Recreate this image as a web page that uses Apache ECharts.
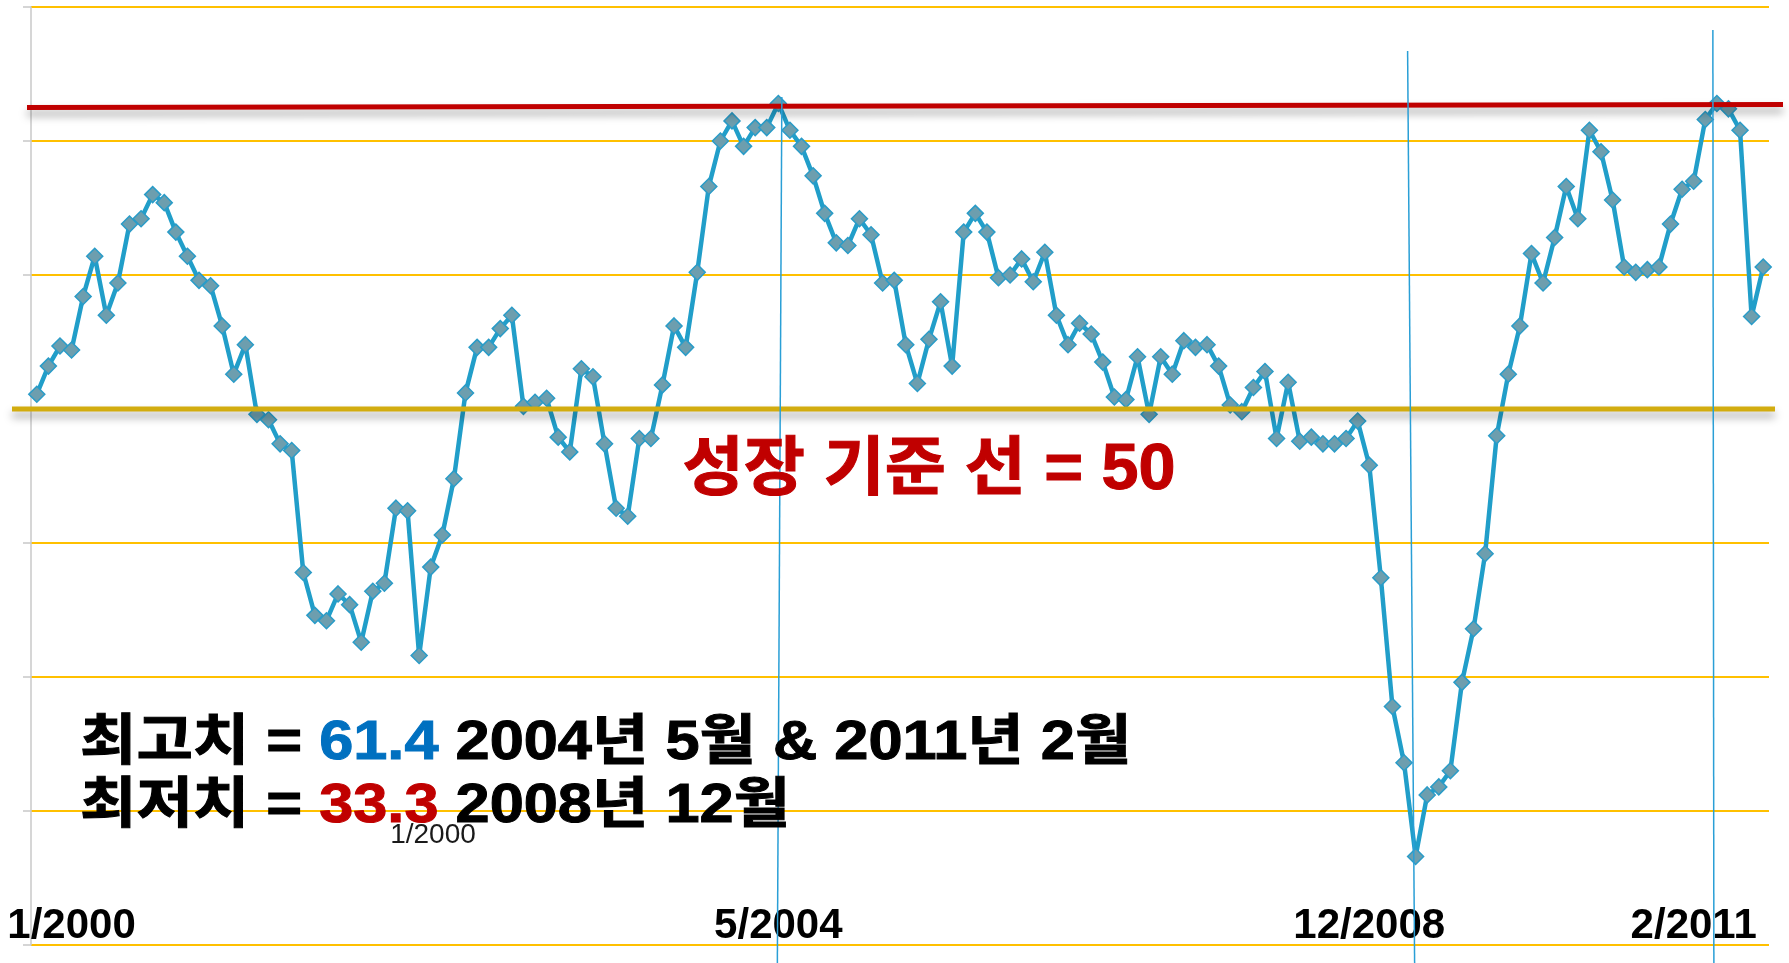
<!DOCTYPE html>
<html>
<head>
<meta charset="utf-8">
<script src="https://cdn.jsdelivr.net/npm/echarts@6/dist/echarts.min.js"></script>
<style>
  html, body { margin: 0; padding: 0; background: #fff; }
  #chart { width: 1789px; height: 963px; }
</style>
</head>
<body>
<div id="chart"></div>
<script>
// monthly index values (150 points)
const values = [
  50.55, 51.6, 52.35, 52.2, 54.2, 55.7, 53.5, 54.7, 56.9, 57.1,
  58.0, 57.7, 56.6, 55.7, 54.8, 54.6, 53.1, 51.3, 52.4, 49.8,
  49.6, 48.7, 48.45, 43.9, 42.3, 42.1, 43.1, 42.7, 41.3, 43.2,
  43.5, 46.3, 46.2, 40.8, 44.1, 45.3, 47.4, 50.6, 52.3, 52.3,
  53.0, 53.5, 50.1, 50.25, 50.4, 48.95, 48.4, 51.5, 51.2, 48.7,
  46.3, 46.0, 48.9, 48.9, 50.9, 53.1, 52.3, 55.1, 58.3, 60.0,
  60.75, 59.8, 60.5, 60.5, 61.4, 60.4, 59.8, 58.7, 57.3, 56.2,
  56.1, 57.1, 56.5, 54.7, 54.8, 52.4, 50.95, 52.6, 54.0, 51.6,
  56.6, 57.3, 56.6, 54.9, 55.0, 55.6, 54.75, 55.85, 53.5, 52.4,
  53.2, 52.8, 51.75, 50.45, 50.35, 51.95, 49.8, 51.95, 51.3, 52.55,
  52.3, 52.4, 51.6, 50.15, 49.9, 50.8, 51.4, 48.9, 51.0, 48.8,
  48.95, 48.7, 48.7, 48.9, 49.55, 47.9, 43.7, 38.9, 36.8, 33.3,
  35.6, 35.9, 36.5, 39.8, 41.8, 44.6, 49.0, 51.3, 53.1, 55.8,
  54.7, 56.4, 58.3, 57.1, 60.4, 59.6, 57.8, 55.3, 55.1, 55.2,
  55.3, 56.9, 58.2, 58.5, 60.8, 61.4, 61.2, 60.4, 53.45, 55.3
];
const categories = values.map((v, i) => String(i));

// x tick labels and the point each one sits over
const tickLabels = ['1/2000', '5/2004', '12/2008', '2/2011'];
const tickIndex = [3, 64, 115, 143];

const yMin = 30;
const yMax = 65;
const yStep = 5;
const baseline = 50;

const growthText = '성장 기준 선 = 50';
const highText = ['최고치 = ', '61.4', ' 2004년 5월 & 2011년 2월'];
const lowText = ['최저치 = ', '33.3', ' 2008년 12월'];
const strayLabel = '1/2000';

const FONT = '"Liberation Sans", Arial, "Noto Sans CJK KR", sans-serif';

const maxVal = Math.max(...values);
const minVal = Math.min(...values);
const peakIdx = values.map((v, i) => (v === maxVal ? i : -1)).filter(i => i >= 0);
const lowIdx = values.indexOf(minVal);

const chart = echarts.init(document.getElementById('chart'), null, { renderer: 'canvas' });

chart.setOption({
  animation: false,
  grid: { left: 31, right: 20, top: 7, bottom: 18 },
  xAxis: {
    type: 'category',
    data: categories,
    boundaryGap: true,
    axisLine: { show: false },
    axisTick: { show: false },
    splitLine: { show: false },
    axisLabel: {
      inside: true,
      interval: (i) => tickIndex.includes(i),
      formatter: (v) => {
        const k = tickIndex.indexOf(Number(v));
        return k >= 0 ? tickLabels[k] : '';
      },
      color: '#000',
      fontWeight: 'bold',
      fontSize: 42,
      fontFamily: FONT,
      lineHeight: 30,
      margin: 4
    }
  },
  yAxis: {
    type: 'value',
    min: yMin,
    max: yMax,
    interval: yStep,
    axisLine: { show: true, lineStyle: { color: '#c8c8c8', width: 1.5 } },
    axisTick: { show: true, length: 8, lineStyle: { color: '#c8c8c8', width: 1.5 } },
    axisLabel: { show: false },
    splitLine: { lineStyle: { color: '#ffc000', width: 1.8 } }
  },
  series: [
    {
      type: 'line',
      data: values,
      symbol: 'diamond',
      symbolSize: 16,
      showAllSymbol: true,
      lineStyle: { color: '#219ec9', width: 4.5 },
      itemStyle: { color: '#6d9eae', borderColor: '#2a9cc8', borderWidth: 1.5 },
      z: 3
    }
  ]
});

// annotation lines and texts, placed through the axes
const px = (i, v) => chart.convertToPixel({ gridIndex: 0 }, [i, v]);
const yBase = px(0, baseline)[1];
const yHigh = px(0, maxVal)[1];

const shadow = { shadowColor: 'rgba(0,0,0,0.35)', shadowBlur: 8, shadowOffsetY: 6 };
const vLine = (idx, dTop, dBottom, top) => {
  const x = px(idx, maxVal)[0];
  return {
    type: 'line',
    z: 30,
    shape: { x1: x + dTop, y1: top, x2: x + dBottom, y2: 963 },
    style: { stroke: '#2a9fd6', lineWidth: 1.5 }
  };
};

const richText = (parts, numColor) => ({
  text: '{a|' + parts[0] + '}{b|' + parts[1] + '}{a|' + parts[2] + '}',
  font: 'bold 55px ' + FONT, fill: '#000', align: 'left', verticalAlign: 'middle',
  rich: {
    a: { fill: '#000', stroke: '#000', lineWidth: 1, fontSize: 55, fontWeight: 'bold', fontFamily: FONT },
    b: { fill: numColor, stroke: numColor, lineWidth: 1, fontSize: 55, fontWeight: 'bold', fontFamily: FONT }
  }
});

chart.setOption({
  graphic: [
    {
      type: 'line', z: 20,
      shape: { x1: 12, y1: yBase, x2: 1775, y2: yBase },
      style: Object.assign({ stroke: '#d2ac0f', lineWidth: 5 }, shadow)
    },
    {
      type: 'line', z: 20,
      shape: { x1: 27, y1: yHigh + 4, x2: 1783, y2: yHigh + 1 },
      style: Object.assign({ stroke: '#c00000', lineWidth: 5 }, shadow)
    },
    vLine(peakIdx[0], 3.5, -1, 97),
    vLine(lowIdx, -8, -1, 51),
    vLine(peakIdx[1], -4, -3, 30),
    {
      type: 'text', z: 40, x: 929, y: 471, scaleX: 1.04,
      style: {
        text: growthText, fill: '#c00000', stroke: '#c00000', lineWidth: 1,
        font: 'bold 64px ' + FONT, align: 'center', verticalAlign: 'middle'
      }
    },
    { type: 'text', z: 40, x: 80, y: 744, scaleX: 1.115, style: richText(highText, '#0070c0') },
    { type: 'text', z: 40, x: 80, y: 807, scaleX: 1.115, style: richText(lowText, '#c00000') },
    {
      type: 'text', z: 40, x: 433, y: 835,
      style: {
        text: strayLabel, fill: '#1a1a1a',
        font: '28px ' + FONT, align: 'center', verticalAlign: 'middle'
      }
    }
  ]
});
</script>
</body>
</html>
